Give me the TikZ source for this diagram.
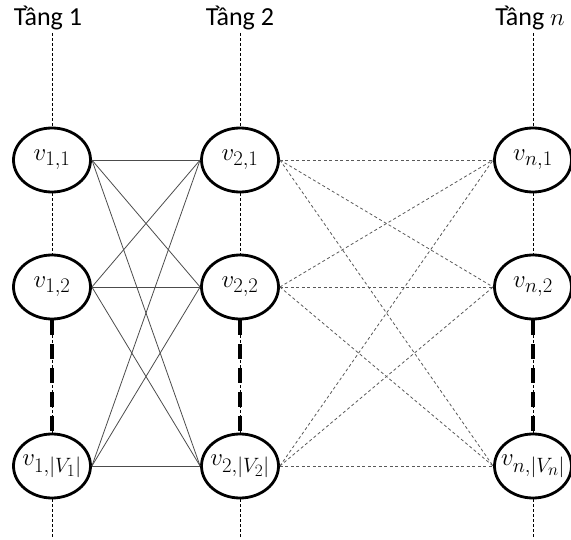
\documentclass[tikz,border=0pt]{standalone}
\usepackage{amsmath}
\usepackage{fontspec}
\setmainfont{Carlito}
\usepackage{tikz}
\usetikzlibrary{shapes.geometric}
\tikzstyle{vnode}=[ellipse,draw=black,line width=2.8pt,fill=white,
                   minimum width=77pt,minimum height=64pt,inner sep=-8pt,
                   font=\fontsize{24.88}{30}\selectfont]
\tikzstyle{layer}=[font=\fontsize{26}{30}\selectfont,inner sep=0pt]
\tikzstyle{axis}=[line width=0.7pt,dash pattern=on 3pt off 2pt]
\tikzstyle{skip}=[line width=4.5pt,dash pattern=on 15pt off 9pt]
\tikzstyle{full}=[draw=black!70,line width=0.8pt]
\tikzstyle{part}=[draw=black!65,line width=0.8pt,dash pattern=on 3pt off 2.5pt]

\begin{document}
\begin{tikzpicture}[x=1pt,y=-1pt]
    \useasboundingbox (0,0) rectangle (571,540);
    \newcommand{\xa}{52}
    \newcommand{\xb}{240}
    \newcommand{\xn}{533}
    % layer titles
    \node (t1) at (48, 18) [layer]{Tầng 1};
    \node (t2) at (\xb,18) [layer]{Tầng 2};
    \node (tn) at (530,18) [layer]{Tầng $n$};
    \coordinate (e1) at (\xa,538);
    \coordinate (e2) at (\xb,538);
    \coordinate (en) at (\xn,538);
    % vertices
    \node (v11) at (\xa,160) [vnode]{$v_{1,1}$};
    \node (v12) at (\xa,287) [vnode]{$v_{1,2}$};
    \node (v1v) at (\xa,466) [vnode]{$v_{1,|V_1|}$};
    \node (v21) at (\xb,160) [vnode]{$v_{2,1}$};
    \node (v22) at (\xb,287) [vnode]{$v_{2,2}$};
    \node (v2v) at (\xb,466) [vnode]{$v_{2,|V_2|}$};
    \node (vn1) at (\xn,160) [vnode]{$v_{n,1}$};
    \node (vn2) at (\xn,287) [vnode]{$v_{n,2}$};
    \node (vnv) at (\xn,466) [vnode]{$v_{n,|V_n|}$};
    % vertical guides
    \foreach \c/\t/\e in {1/t1/e1,2/t2/e2,n/tn/en}{
      \draw[axis] (v\c1.north |- 0,33) -- (v\c1.north);
      \draw[axis] (v\c1.south) -- (v\c2.north);
      \draw[axis] (v\c2.south) -- (v\c v.north);
      \draw[skip] (v\c2.south) -- (v\c v.north);
      \draw[axis] (v\c v.south) -- (\e);
    }
    % edges between layers
    \foreach \a in {1,2,v}
      \foreach \b in {1,2,v}{
        \draw[full] (v1\a.east) -- (v2\b.west);
        \draw[part] (v2\a.east) -- (vn\b.west);
      }
  \end{tikzpicture}
\end{document}
